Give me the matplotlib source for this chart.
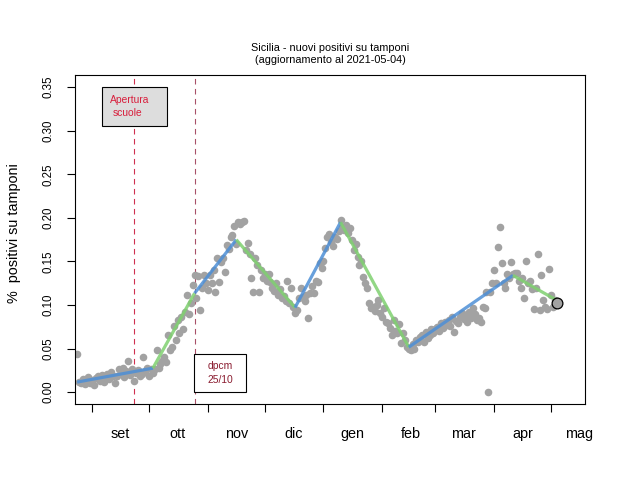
import matplotlib
matplotlib.use('Agg')
import matplotlib.pyplot as plt
import pandas as pd
from matplotlib.patches import Rectangle

plt.rcParams['font.family'] = ['Liberation Sans', 'DejaVu Sans']

# ---------------- data ----------------
start_date = '2020-08-24'
pos_ago = [0.044, 0.012, 0.010, 0.015, 0.009, 0.013, 0.017, 0.011]
pos_set = [0.014, 0.008, 0.016, 0.019, 0.013, 0.020, 0.012, 0.017, 0.021, 0.015,
           0.023, 0.018, 0.010, 0.019, 0.026, 0.022, 0.028, 0.017, 0.024, 0.036,
           0.020, 0.027, 0.013, 0.022, 0.025, 0.018, 0.021, 0.040, 0.024, 0.028]
pos_ott = [0.019, 0.026, 0.022, 0.027, 0.048, 0.028, 0.032, 0.036, 0.040, 0.034,
           0.065, 0.048, 0.052, 0.076, 0.060, 0.083, 0.068, 0.086, 0.072, 0.092,
           0.111, 0.090, 0.102, 0.123, 0.134, 0.108, 0.133, 0.094, 0.120, 0.134, 0.125]
pos_nov = [0.117, 0.134, 0.125, 0.140, 0.115, 0.154, 0.126, 0.149, 0.154, 0.138,
           0.169, 0.164, 0.178, 0.180, 0.191, 0.170, 0.195, 0.193, 0.195, 0.196,
           0.163, 0.171, 0.159, 0.131, 0.115, 0.154, 0.146, 0.115, 0.140, 0.131]
pos_dic = [0.135, 0.128, 0.136, 0.126, 0.120, 0.116, 0.125, 0.112, 0.118, 0.108,
           0.110, 0.105, 0.128, 0.102, 0.120, 0.098, 0.091, 0.094, 0.108, 0.120,
           0.109, 0.105, 0.112, 0.085, 0.114, 0.122, 0.114, 0.128, 0.126, 0.148, 0.143]
pos_gen = [0.150, 0.165, 0.178, 0.182, 0.172, 0.168, 0.178, 0.176, 0.185, 0.197,
           0.190, 0.186, 0.192, 0.183, 0.188, 0.175, 0.163, 0.170, 0.155, 0.146,
           0.150, 0.132, 0.125, 0.120, 0.102, 0.096, 0.098, 0.093, 0.100, 0.106, 0.091]
pos_feb = [0.086, 0.097, 0.080, 0.079, 0.074, 0.065, 0.083, 0.070, 0.068, 0.078,
           0.056, 0.068, 0.060, 0.052, 0.050, 0.048, 0.055, 0.050, 0.060, 0.057,
           0.063, 0.065, 0.058, 0.069, 0.062, 0.066, 0.073, 0.068]
pos_mar = [0.073, 0.075, 0.070, 0.079, 0.074, 0.080, 0.077, 0.083, 0.076, 0.086,
           0.069, 0.082, 0.079, 0.086, 0.091, 0.084, 0.088, 0.080, 0.092, 0.085,
           0.096, 0.090, 0.083, 0.085, 0.080, 0.098, 0.096, 0.115, 0.000, 0.115, 0.125]
pos_apr = [0.140, 0.125, 0.166, 0.190, 0.148, 0.125, 0.120, 0.136, 0.131, 0.149,
           0.135, 0.137, 0.137, 0.128, 0.119, 0.131, 0.108, 0.151, 0.125, 0.128,
           0.118, 0.095, 0.120, 0.159, 0.094, 0.134, 0.106, 0.098, 0.095, 0.141]
pos_mag = [0.111, 0.098, 0.106, 0.102]

break_dates = ['2020-08-24', '2020-10-03', '2020-10-25', '2020-11-16', '2020-12-17',
               '2021-01-10', '2021-02-15', '2021-04-11', '2021-05-04']
break_values = [0.0115, 0.0275, 0.1135, 0.175, 0.097, 0.195, 0.0516, 0.134, 0.1055]

month_labels = ['set', 'ott', 'nov', 'dic', 'gen', 'feb', 'mar', 'apr', 'mag']
y_ticks = [0.00, 0.05, 0.10, 0.15, 0.20, 0.25, 0.30, 0.35]

event_dates = ['2020-09-23', '2020-10-25']

# ---------------- figure ----------------
W, H = 625, 500
fig = plt.figure(figsize=(W / 100, H / 100), dpi=100)
L, R, T, B = 75.2, 585.0, 75.0, 404.3
ax = fig.add_axes([L / W, 1 - B / H, (R - L) / W, (B - T) / H])

values = pos_ago + pos_set + pos_ott + pos_nov + pos_dic + pos_gen + pos_feb + pos_mar + pos_apr + pos_mag
dates = pd.date_range(start_date, periods=len(values), freq='D')

ax.scatter(dates, values, s=30, color='#a2a2a2', linewidths=0, zorder=2)

bd = pd.to_datetime(break_dates)
seg_colors = ['#4d8fd6', '#7fd070']
for i in range(len(bd) - 1):
    ax.plot(bd[i:i + 2], break_values[i:i + 2], color=seg_colors[i % 2],
            lw=2.3, alpha=0.85, solid_capstyle='butt', zorder=3)

ax.scatter([dates[-1]], [values[-1]], s=60, facecolor='#a2a2a2',
           edgecolor='black', linewidths=0.9, zorder=4)

ev = pd.to_datetime(event_dates)
ax.axvline(ev[0], color='#d0304f', lw=0.8, ls=(0, (5, 4)), zorder=1)
ax.axvline(ev[1], color='#a85068', lw=0.8, ls=(0, (5, 4)), zorder=1)

ax.set_xlim(pd.Timestamp('2020-08-23'), pd.Timestamp('2021-05-19'))
ax.set_ylim(-0.014, 0.364)

month_ticks = pd.date_range('2020-09-01', '2021-05-01', freq='MS')
ax.set_xticks(month_ticks)
ax.set_xticklabels([''] * len(month_ticks))
ax.set_xticks(month_ticks + pd.Timedelta(days=15), minor=True)
ax.set_xticklabels(month_labels, minor=True)
ax.tick_params(axis='x', which='major', length=6, width=0.8, direction='out')
ax.tick_params(axis='x', which='minor', length=0, pad=16, labelsize=10.4)

ax.set_yticks(y_ticks)
ax.set_yticklabels(['%.2f' % v for v in y_ticks], rotation=90, va='center')
ax.tick_params(axis='y', length=6, width=0.8, pad=9, labelsize=8.3)

for s in ax.spines.values():
    s.set_linewidth(0.8)
    s.set_color('black')

def px2ax(px, py):
    return (px - L) / (R - L), (B - py) / (B - T)

# box "Apertura scuole"
x0, y0 = px2ax(101.5, 126)
x1, y1 = px2ax(167, 87.3)
ax.add_patch(Rectangle((x0, y0), x1 - x0, y1 - y0, transform=ax.transAxes,
                       facecolor='#dddddd', edgecolor='black', lw=0.8, zorder=5))
tx, ty = px2ax(110, 100)
ax.text(tx, ty, 'Apertura', transform=ax.transAxes, color='#d81e3c',
        fontsize=7.4, ha='left', va='center', zorder=6)
tx, ty = px2ax(112.5, 113.5)
ax.text(tx, ty, 'scuole', transform=ax.transAxes, color='#d81e3c',
        fontsize=7.4, ha='left', va='center', zorder=6)

# box "dpcm 25/10"
x0, y0 = px2ax(194.3, 392.3)
x1, y1 = px2ax(246, 354)
ax.add_patch(Rectangle((x0, y0), x1 - x0, y1 - y0, transform=ax.transAxes,
                       facecolor='white', edgecolor='black', lw=0.8, zorder=5))
tx, ty = px2ax(207.5, 366)
ax.text(tx, ty, 'dpcm', transform=ax.transAxes, color='#8a1c30',
        fontsize=7.4, ha='left', va='center', zorder=6)
tx, ty = px2ax(207.5, 380)
ax.text(tx, ty, '25/10', transform=ax.transAxes, color='#8a1c30',
        fontsize=7.4, ha='left', va='center', zorder=6)

cx = (L + R) / 2 / W
fig.text(cx, 1 - 48 / H, 'Sicilia - nuovi positivi su tamponi', ha='center',
         va='center', fontsize=7.8)
fig.text(cx, 1 - 60 / H, '(aggiornamento al 2021-05-04)', ha='center',
         va='center', fontsize=7.8)
fig.text(14 / W, 1 - 233 / H, '%  positivi su tamponi', rotation=90,
         ha='center', va='center', fontsize=10.4)

fig.savefig('out.png', dpi=100)
